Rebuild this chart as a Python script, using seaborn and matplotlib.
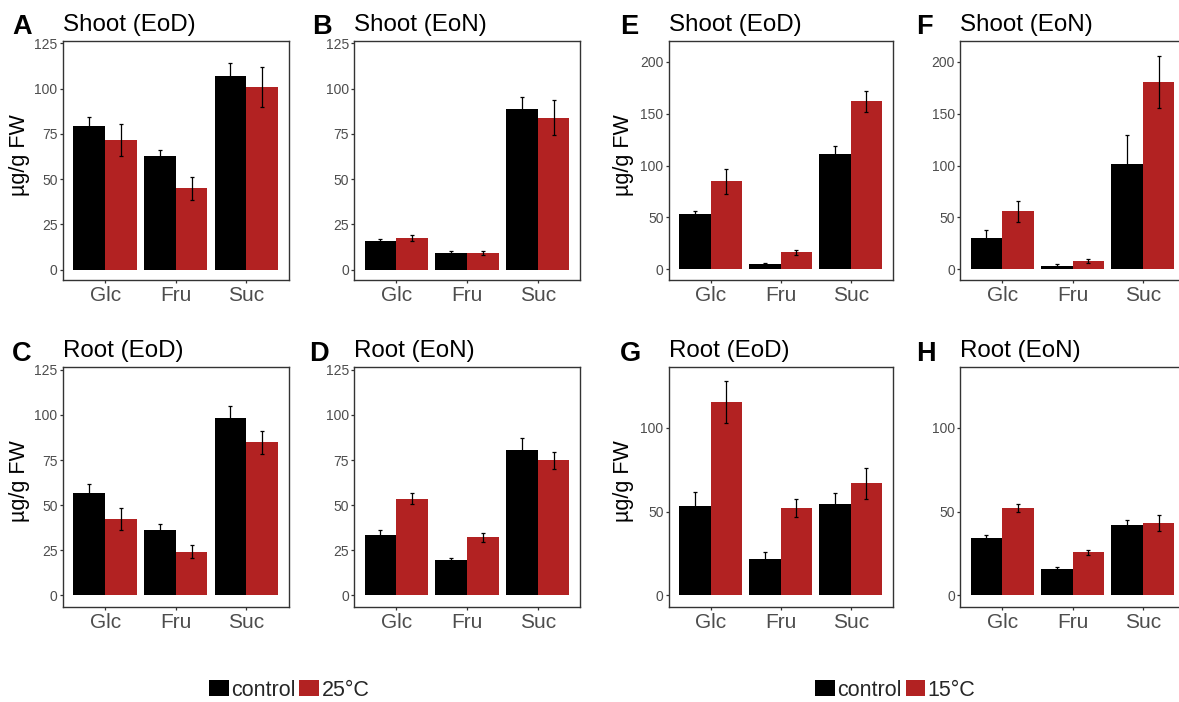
import numpy as np
import pandas as pd
import matplotlib
matplotlib.use("Agg")
import matplotlib.pyplot as plt
from matplotlib.patches import Patch
import seaborn as sns

# ---------------- data ----------------
cats = ["Glc", "Fru", "Suc"]

A_ctrl = [79.5, 62.5, 106.9]; A_ctrl_err = [5.0, 3.5, 7.5]
A_trt = [71.5, 44.8, 101.0];  A_trt_err = [9.0, 6.6, 11.0]
B_ctrl = [16.0, 9.2, 88.5];   B_ctrl_err = [0.7, 0.8, 7.0]
B_trt = [17.5, 9.0, 84.0];    B_trt_err = [1.8, 1.0, 9.7]
C_ctrl = [56.5, 36.0, 98.2];  C_ctrl_err = [5.0, 3.5, 6.5]
C_trt = [42.2, 24.2, 84.7];   C_trt_err = [6.2, 3.7, 6.3]
D_ctrl = [33.7, 19.7, 80.3];  D_ctrl_err = [2.5, 1.3, 7.0]
D_trt = [53.5, 32.3, 74.8];   D_trt_err = [3.0, 2.5, 4.6]
E_ctrl = [53.0, 5.5, 111.0];  E_ctrl_err = [3.5, 1.0, 8.0]
E_trt = [85.0, 16.5, 162.0];  E_trt_err = [12.0, 2.5, 10.0]
F_ctrl = [30.0, 3.5, 102.0];  F_ctrl_err = [8.0, 1.2, 28.0]
F_trt = [56.0, 8.0, 180.5];   F_trt_err = [10.0, 1.5, 25.0]
G_ctrl = [53.6, 22.0, 54.8];  G_ctrl_err = [8.0, 4.0, 6.4]
G_trt = [115.5, 52.4, 67.0];  G_trt_err = [12.5, 5.3, 9.2]
H_ctrl = [34.3, 15.5, 42.2];  H_ctrl_err = [2.0, 1.2, 2.8]
H_trt = [52.3, 25.7, 43.0];   H_trt_err = [2.4, 1.7, 4.8]

letters = ["A", "B", "C", "D", "E", "F", "G", "H"]
titles = ["Shoot (EoD)", "Shoot (EoN)", "Root (EoD)", "Root (EoN)",
          "Shoot (EoD)", "Shoot (EoN)", "Root (EoD)", "Root (EoN)"]
warm_labels = ["control", "25°C"]
cold_labels = ["control", "15°C"]
ylabel_text = "µg/g FW"

# ---------------- style ----------------
sns.set_style("ticks")
plt.rcParams["font.family"] = ["Liberation Sans", "DejaVu Sans"]

W, H = 1179, 702
fig = plt.figure(figsize=(W / 100, H / 100), dpi=100)

def fx(x):
    return x / W

def fy(y):
    return 1 - y / H

BLACK = "#000000"
RED = "#B22222"
TICKCOL = "#4D4D4D"
SPINE = "#333333"

# panel geometry in pixels (left, top, right, bottom)
geo = {
    "A": (62.7, 41.3, 288.7, 280.0),
    "B": (354.0, 41.3, 580.0, 280.0),
    "C": (62.7, 367.0, 288.7, 606.5),
    "D": (354.0, 367.0, 580.0, 606.5),
    "E": (668.7, 41.3, 892.7, 280.0),
    "F": (960.0, 41.3, 1185.0, 280.0),
    "G": (668.7, 367.0, 892.7, 606.5),
    "H": (960.0, 367.0, 1185.0, 606.5),
}
letter_x = {"A": 12, "B": 312, "C": 12, "D": 309, "E": 620, "F": 916, "G": 620, "H": 916}
ylabel_right = {"A": 30, "C": 30, "E": 634, "G": 634}

panels = {
    "A": (A_ctrl, A_ctrl_err, A_trt, A_trt_err, warm_labels),
    "B": (B_ctrl, B_ctrl_err, B_trt, B_trt_err, warm_labels),
    "C": (C_ctrl, C_ctrl_err, C_trt, C_trt_err, warm_labels),
    "D": (D_ctrl, D_ctrl_err, D_trt, D_trt_err, warm_labels),
    "E": (E_ctrl, E_ctrl_err, E_trt, E_trt_err, cold_labels),
    "F": (F_ctrl, F_ctrl_err, F_trt, F_trt_err, cold_labels),
    "G": (G_ctrl, G_ctrl_err, G_trt, G_trt_err, cold_labels),
    "H": (H_ctrl, H_ctrl_err, H_trt, H_trt_err, cold_labels),
}

ylims = {"A": (-5.8, 126.2), "B": (-5.8, 126.2), "C": (-6.1, 126.5), "D": (-6.1, 126.5),
         "E": (-10.3, 219.9), "F": (-10.3, 219.9), "G": (-6.6, 136.4), "H": (-6.6, 136.4)}
yticks = {"A": [0, 25, 50, 75, 100, 125], "B": [0, 25, 50, 75, 100, 125],
          "C": [0, 25, 50, 75, 100, 125], "D": [0, 25, 50, 75, 100, 125],
          "E": [0, 50, 100, 150, 200], "F": [0, 50, 100, 150, 200],
          "G": [0, 50, 100], "H": [0, 50, 100]}

for i, key in enumerate(letters):
    l, t, r, b = geo[key]
    ax = fig.add_axes([fx(l), fy(b), (r - l) / W, (b - t) / H])
    ctrl, ctrl_err, trt, trt_err, labs = panels[key]
    df = pd.DataFrame({
        "sugar": cats * 2,
        "group": [labs[0]] * 3 + [labs[1]] * 3,
        "value": list(ctrl) + list(trt),
        "err": list(ctrl_err) + list(trt_err),
    })
    sns.barplot(data=df, x="sugar", y="value", hue="group", order=cats,
                hue_order=labs, palette=[BLACK, RED], width=0.9,
                errorbar=None, legend=False, saturation=1, linewidth=0, ax=ax)
    for cont, lev in zip(ax.containers, labs):
        sub = df[df["group"] == lev].set_index("sugar")
        for bar, cat in zip(cont, cats):
            xc = bar.get_x() + bar.get_width() / 2
            ax.errorbar(xc, bar.get_height(), yerr=sub.loc[cat, "err"],
                        color="black", lw=0.9, capsize=1.2, capthick=0.9, zorder=5)
    ax.set_xlim(-0.6, 2.6)
    ax.set_ylim(*ylims[key])
    ax.set_yticks(yticks[key])
    ax.set_xlabel("")
    if key in ylabel_right:
        ax.set_ylabel(ylabel_text, fontsize=15.5, color="black")
        ax.yaxis.set_label_coords((ylabel_right[key] - l) / (r - l), 0.523)
    else:
        ax.set_ylabel("")
    for s in ax.spines.values():
        s.set_visible(True)
        s.set_color(SPINE)
        s.set_linewidth(1.0)
    ax.tick_params(axis="y", labelsize=10, labelcolor=TICKCOL, color=SPINE,
                   length=2.5, width=0.9, pad=1.2)
    ax.tick_params(axis="x", labelsize=15, labelcolor=TICKCOL, color=SPINE,
                   length=2.5, width=0.9, pad=2)
    top_row = t < 100
    fig.text(fx(l + 0.5), fy(30.7 if top_row else 356.7), titles[i],
             fontsize=17.4, ha="left", va="baseline", color="black")
    fig.text(fx(letter_x[key]), fy(33.5 if top_row else 361), key,
             fontsize=19.5, fontweight="bold", ha="left", va="baseline", color="black")

# legends
for labs, cx in ((warm_labels, 289), (cold_labels, 895)):
    handles = [Patch(facecolor=BLACK, edgecolor="none"), Patch(facecolor=RED, edgecolor="none")]
    fig.legend(handles=handles, labels=labs, loc="center",
               bbox_to_anchor=(fx(cx), fy(690)), ncol=2, frameon=False,
               fontsize=15.5, handlelength=0.92, handleheight=0.82,
               handletextpad=0.1, columnspacing=0.2, borderpad=0,
               borderaxespad=0)

fig.savefig("out.png", dpi=100)
